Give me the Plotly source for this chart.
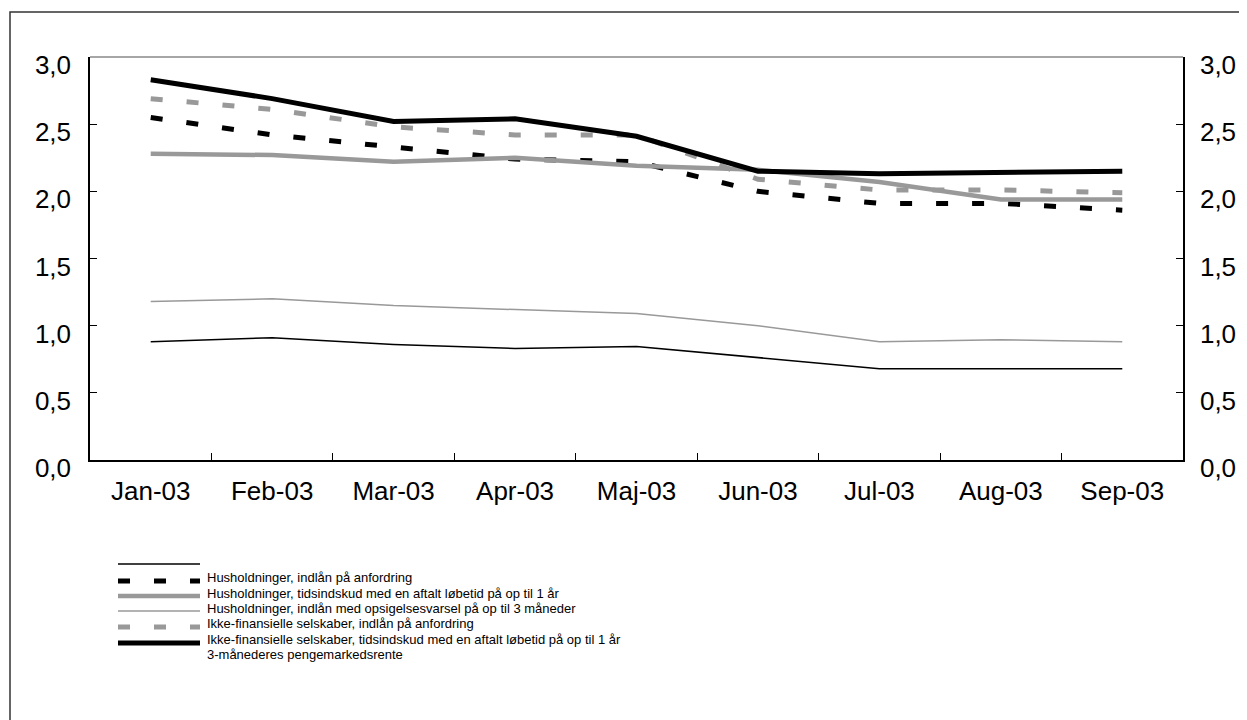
import plotly.graph_objects as go

# data
months = ["Jan-03", "Feb-03", "Mar-03", "Apr-03", "Maj-03", "Jun-03", "Jul-03", "Aug-03", "Sep-03"]
hh_anfordring = [0.88, 0.91, 0.86, 0.83, 0.845, 0.765, 0.68, 0.68, 0.68]
hh_tidsindskud = [2.55, 2.42, 2.33, 2.24, 2.22, 2.00, 1.91, 1.91, 1.86]
hh_opsigelse = [2.28, 2.27, 2.22, 2.25, 2.19, 2.16, 2.07, 1.94, 1.94]
if_anfordring = [1.18, 1.20, 1.15, 1.12, 1.09, 1.00, 0.88, 0.895, 0.88]
if_tidsindskud = [2.69, 2.61, 2.48, 2.42, 2.42, 2.09, 2.01, 2.01, 1.99]
pengemarked = [2.83, 2.69, 2.52, 2.54, 2.41, 2.15, 2.13, 2.14, 2.15]
y_ticks = [0.0, 0.5, 1.0, 1.5, 2.0, 2.5, 3.0]

names = [
    "Husholdninger, indlån på anfordring",
    "Husholdninger, tidsindskud med en aftalt løbetid på op til 1 år",
    "Husholdninger, indlån med opsigelsesvarsel på op til 3 måneder",
    "Ikke-finansielle selskaber, indlån på anfordring",
    "Ikke-finansielle selskaber, tidsindskud med en aftalt løbetid på op til 1 år",
    "3-månederes pengemarkedsrente",
]

GRAY = "#999999"
DASH = "12px,24px"
FONT = "Liberation Sans, Arial, sans-serif"

styles = [
    dict(color="black", width=1.5, dash="solid"),
    dict(color="black", width=5, dash=DASH),
    dict(color=GRAY, width=4.5, dash="solid"),
    dict(color=GRAY, width=1.5, dash="solid"),
    dict(color=GRAY, width=5, dash=DASH),
    dict(color="black", width=5, dash="solid"),
]
series = [hh_anfordring, hh_tidsindskud, hh_opsigelse, if_anfordring, if_tidsindskud, pengemarked]

fig = go.Figure()
for name, vals, st in zip(names, series, styles):
    fig.add_trace(go.Scatter(x=months, y=vals, name=name, mode="lines",
                             line=st, showlegend=False))
# invisible copy on the right-hand axis so that it gets drawn
fig.add_trace(go.Scatter(x=months, y=pengemarked, yaxis="y2", mode="lines",
                         line=dict(width=0), opacity=0, hoverinfo="skip", showlegend=False))

# pixel layout (figure coords; the page adds 8px body margin) -> paper coords
L, R, T, B = 82, 1175, 49, 452
W, H = R - L, B - T
def px(x):
    return (x - L) / W
def py(y):
    return (B - y) / H

shapes = [
    # outer frame
    dict(type="rect", xref="paper", yref="paper", x0=px(2), x1=px(1245), y0=py(4), y1=py(740),
         line=dict(color="#333333", width=1.5)),
    # top border of plot area
    dict(type="line", xref="paper", yref="paper", x0=0, x1=1, y0=1, y1=1,
         line=dict(color="#888888", width=1.5)),
]
annotations = []

# hand-made legend (swatch sits a little above its label, as in the original)
sw_y = [556, 573, 588, 603, 619, 635]
txt_y = [569, 585, 600, 615, 631, 646]
for i, (name, st) in enumerate(zip(names, styles)):
    shapes.append(dict(type="line", xref="paper", yref="paper", x0=px(110), x1=px(192),
                       y0=py(sw_y[i]), y1=py(sw_y[i]), line=st))
    annotations.append(dict(text=name, xref="paper", yref="paper", x=px(197), y=py(txt_y[i]),
                            xanchor="left", yanchor="middle", showarrow=False,
                            font=dict(size=13, color="black", family=FONT)))

fig.update_layout(
    width=1247, height=720,
    margin=dict(l=L, r=1247 - R, t=T, b=720 - B),
    paper_bgcolor="white", plot_bgcolor="white",
    separators=",.",
    font=dict(family=FONT, color="black"),
    shapes=shapes, annotations=annotations,
    xaxis=dict(range=[-0.5, 8.5], showgrid=False, showline=True, linecolor="black", linewidth=1.5,
               ticks="inside", tickson="boundaries", ticklen=7, tickcolor="black",
               tickfont=dict(size=26), ticklabelstandoff=7),
    yaxis=dict(range=[0, 3], tickvals=y_ticks, tickformat=".1f", showgrid=False, zeroline=False,
               showline=True, linecolor="black", linewidth=1.5, ticks="inside", ticklen=7,
               tickcolor="black", tickfont=dict(size=26), ticklabelstandoff=12, ticklabelshift=8),
    yaxis2=dict(range=[0, 3], tickvals=y_ticks, tickformat=".1f", overlaying="y", side="right",
                anchor="x", showgrid=False, zeroline=False, showline=True, linecolor="black",
                linewidth=1.5, ticks="inside", ticklen=7, tickcolor="black",
                tickfont=dict(size=26), ticklabelstandoff=10, ticklabelshift=8),
)

fig.write_html("out.html")
